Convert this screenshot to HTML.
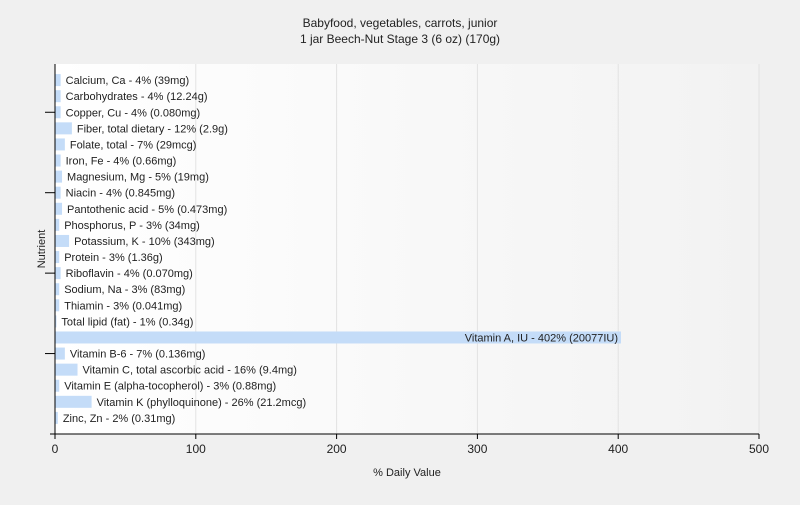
<!DOCTYPE html>
<html><head><meta charset="utf-8"><style>
body{margin:0;background:#f0f0f0;font-family:"Liberation Sans",sans-serif;}
svg text{font-family:"Liberation Sans",sans-serif;}
</style></head><body>
<svg id="chart" width="800" height="500" xmlns="http://www.w3.org/2000/svg">
<defs><linearGradient id="pg" x1="0" x2="1" y1="0" y2="0"><stop offset="0" stop-color="#ffffff"/><stop offset="1" stop-color="#f2f2f2"/></linearGradient></defs>
<rect width="800" height="500" fill="#f0f0f0"/>
<text x="400" y="27" text-anchor="middle" font-size="12" fill="#222">Babyfood, vegetables, carrots, junior</text>
<text x="400" y="43" text-anchor="middle" font-size="12" fill="#222">1 jar Beech-Nut Stage 3 (6 oz) (170g)</text>
<rect x="55" y="64" width="704" height="370" fill="url(#pg)"/>
<g id="grid"></g><g id="bars"></g><g id="axes"></g>
<text x="407" y="476" text-anchor="middle" font-size="11" fill="#222">% Daily Value</text>
<text x="45" y="249" text-anchor="middle" font-size="11" fill="#222" transform="rotate(-90 45 249)">Nutrient</text>
</svg>
<script>
const categories=["Calcium, Ca","Carbohydrates","Copper, Cu","Fiber, total dietary","Folate, total","Iron, Fe","Magnesium, Mg","Niacin","Pantothenic acid","Phosphorus, P","Potassium, K","Protein","Riboflavin","Sodium, Na","Thiamin","Total lipid (fat)","Vitamin A, IU","Vitamin B-6","Vitamin C, total ascorbic acid","Vitamin E (alpha-tocopherol)","Vitamin K (phylloquinone)","Zinc, Zn"];
const values=[4,4,4,12,7,4,5,4,5,3,10,3,4,3,3,1,402,7,16,3,26,2];
const amounts=["39mg","12.24g","0.080mg","2.9g","29mcg","0.66mg","19mg","0.845mg","0.473mg","34mg","343mg","1.36g","0.070mg","83mg","0.041mg","0.34g","20077IU","0.136mg","9.4mg","0.88mg","21.2mcg","0.31mg"];
const xTicks=[0,100,200,300,400,500];
const NS="http://www.w3.org/2000/svg";
const x0=55,x1=759,yTop=64,yBot=434;
const xs=v=>x0+(v/500)*(x1-x0);
const band=(yBot-yTop)/(categories.length+1);
const ys=i=>yTop+band*(i+1);
function mk(t,a,p){const e=document.createElementNS(NS,t);for(const k in a)e.setAttribute(k,a[k]);p.appendChild(e);return e;}
const grid=document.getElementById('grid'),bars=document.getElementById('bars'),axes=document.getElementById('axes');
xTicks.forEach(t=>{
 if(t>0){const g=mk('line',{x1:xs(t),x2:xs(t),y1:yTop,y2:yBot,stroke:'#e2e2e2'},grid);
 
 }
 const tk=mk('line',{x1:xs(t),x2:xs(t),y1:yBot,y2:yBot+5,stroke:'#000'},axes);
 
 
 const tl=mk('text',{x:xs(t),y:yBot+19,'text-anchor':'middle','font-size':12,fill:'#222'},axes);
 tl.textContent=t;
 
 
});
categories.forEach((c,i)=>{
 const y=ys(i),w=xs(values[i])-x0;
 const r=mk('rect',{x:x0,y:y-6,width:w,height:12,fill:'#c4dcf8'},bars);
 
 
 const label=c+' - '+values[i]+'% ('+amounts[i]+')';
 const inside=w>300;
 const t=mk('text',{x:inside?x0+w-3:x0+w+5,y:y+4,'text-anchor':inside?'end':'start','font-size':11,fill:'#222'},bars);
 t.textContent=label;
 
 
 if(i%5===2){const tk=mk('line',{x1:x0-10,x2:x0,y1:y,y2:y,stroke:'#000'},axes);
 
 }
});
const ya=mk('line',{x1:x0,x2:x0,y1:yTop,y2:yBot,stroke:'#000'},axes);


const xa=mk('line',{x1:x0-5,x2:x1,y1:yBot,y2:yBot,stroke:'#000'},axes);


</script>
</body></html>
